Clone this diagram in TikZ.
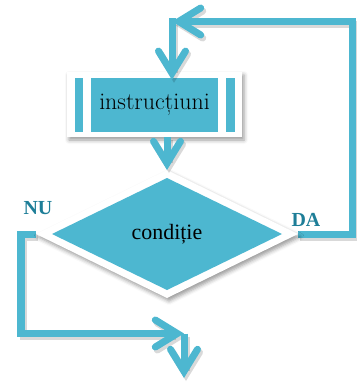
\documentclass[tikz,border=0pt]{standalone}
\usepackage{fontspec}
\newfontfamily\timesfont{Liberation Serif}
\usetikzlibrary{arrows.meta, shapes.geometric, shadows.blur, backgrounds}
\definecolor{flowcyan}{RGB}{77,183,208}
\definecolor{labelteal}{RGB}{30,126,152}

\begin{document}
\begin{tikzpicture}[
        x=1bp, y=-1bp,
        softshadow/.style={blur shadow={shadow xshift=2bp, shadow yshift=-3bp,
                           shadow blur radius=4bp, shadow opacity=40}},
        % white framed block, cyan face and two white bars
        process/.style={rectangle, fill=white, softshadow,
                        minimum width=175bp, minimum height=65bp, inner sep=0pt,
                        font=\fontsize{24}{28}\selectfont,
                        path picture={
                            \fill[flowcyan] ([shift={(8bp,-6bp)}]path picture bounding box.north west)
                                rectangle ([shift={(-7bp,5bp)}]path picture bounding box.south east);
                            \fill[white] ([shift={(16.5bp,-1bp)}]path picture bounding box.north west)
                                rectangle ([shift={(24.5bp,2bp)}]path picture bounding box.south west);
                            \fill[white] ([shift={(-24.5bp,-1bp)}]path picture bounding box.north east)
                                rectangle ([shift={(-16.5bp,2bp)}]path picture bounding box.south east);
                        }},
        decision/.style={diamond, fill=white, softshadow,
                         minimum width=262bp, minimum height=128bp,
                         inner sep=0pt, outer sep=0pt,
                         font=\timesfont\fontsize{22}{26}\selectfont,
                         path picture={
                            \fill[flowcyan] (path picture bounding box.center) ++(-115,0)
                                -- ++(115,-56) -- ++(115,56) -- ++(-115,56) -- cycle;
                         }},
        branch/.style={font=\timesfont\bfseries\fontsize{20}{24}\selectfont, text=labelteal},
        flow/.style={draw=flowcyan, line width=7bp, line join=miter,
                     -{Straight Barb[length=22bp, width=27bp, line cap=round, line join=miter]},
                     preaction={draw=black, opacity=0.15, line width=7bp, line join=miter,
                                transform canvas={shift={(2bp,-3bp)}}}}
    ]
    \useasboundingbox (0,0) rectangle (357,385);

    % --- Blocks ---
    \node[process] (instr) at (154.5,104.5) {instrucțiuni};
    \node[decision] (cond) at (167,234) {condiție};

    % --- Branch labels ---
    \node[branch] (nu) at (38,208) {NU};
    \node[branch] (da) at (306,220) {DA};

    % --- Loop points ---
    \coordinate (looptop) at (352.5,21.5);
    \coordinate (loopin) at (172,21.5);
    \coordinate (nuside) at (21,333.5);
    \coordinate (nuend) at (184,333.5);
    \coordinate (exit) at (184,378);

    % --- Arrows ---
    \begin{scope}[on background layer]
        \draw[flow] (cond.east) -| (looptop) -- (loopin);
        \draw[flow] (cond.west) -| (nuside) -- (nuend);
    \end{scope}
    \draw[flow, line cap=rect, shorten >=-8bp] (loopin) -- (loopin |- instr.north);
    \draw[flow] (instr.south -| cond.north) -- (cond.north);
    \draw[flow] (nuend) -- (exit);

\end{tikzpicture}
\end{document}
